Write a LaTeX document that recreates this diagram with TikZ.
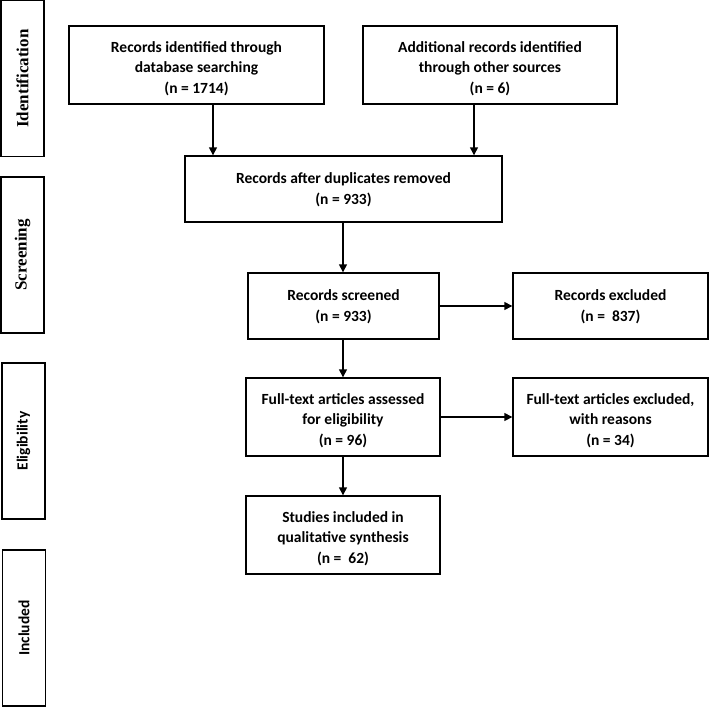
\documentclass[tikz,border=0pt]{standalone}
\usepackage{fontspec}
\setmainfont{Carlito}
\newfontfamily\tnr{Liberation Serif}
\usetikzlibrary{arrows.meta,calc}
\begin{document}
\begin{tikzpicture}[x=1pt,y=-1pt,
  box/.style={draw,line width=1.4pt,inner sep=0pt},
  txt/.style={align=center,inner sep=0pt,font=\fontsize{15.5}{20.7}\selectfont\bfseries},
  side/.style={draw,line width=1.4pt,inner sep=0pt,minimum width=43pt,minimum height=156pt},
  sidetext/.style={rotate=90,font=\fontsize{15.5}{16}\selectfont\bfseries},
  sertext/.style={rotate=90,font=\fontsize{17}{18}\selectfont\bfseries\tnr},
  arr/.style={line width=1.4pt,-{Triangle[length=8pt,width=8pt]}}]
\useasboundingbox (0,0) rectangle (709,707);
% side boxes
\node[side] (sid) at (22.5,78.5) {};
\node[sertext] at (sid) {Identification};
\node[side] (sscr) at (22.5,255) {};
\node[sertext] at (sscr) {Screening};
\node[side] (selg) at (23.5,441) {};
\node[sidetext] at (selg) {Eligibility};
\node[side] (sinc) at (24,628) {};
\node[sidetext] at (sinc) {Included};
% main boxes
\node[box,minimum width=255pt,minimum height=78pt] (b1) at (196.5,65) {};
\node[txt] at ([yshift=-3.5pt]b1.center) {Records identified through\\database searching\\(n = 1714)};
\node[box,minimum width=254pt,minimum height=78pt] (b2) at (490,65) {};
\node[txt] at ([yshift=-3.5pt]b2.center) {Additional records identified\\through other sources\\(n = 6)};
\node[box,minimum width=317pt,minimum height=66pt] (b3) at (343.5,189) {};
\node[txt] at ([yshift=-1pt]b3.center) {Records after duplicates removed\\(n = 933)};
\node[box,minimum width=191pt,minimum height=66pt] (b4) at (343.5,306) {};
\node[txt] at ([yshift=-1pt]b4.center) {Records screened\\(n = 933)};
\node[box,minimum width=195pt,minimum height=66pt] (b5) at (610.5,306) {};
\node[txt] at ([yshift=-1pt]b5.center) {Records excluded\\(n =\ \ 837)};
\node[box,minimum width=194pt,minimum height=78pt] (b6) at (343,417) {};
\node[txt] at ([yshift=-3.5pt]b6.center) {Full-text articles assessed\\for eligibility\\(n = 96)};
\node[box,minimum width=195pt,minimum height=78pt] (b7) at (610.5,417) {};
\node[txt] at ([yshift=-3.5pt]b7.center) {Full-text articles excluded,\\with reasons\\(n = 34)};
\node[box,minimum width=194pt,minimum height=78pt] (b8) at (343,535) {};
\node[txt] at ([yshift=-3.5pt]b8.center) {Studies included in\\qualitative synthesis\\(n =\ \ 62)};
% arrows
\coordinate (c1) at ($(b1.south)+(16.5,0)$);
\coordinate (c2) at ($(b2.south)+(-16,0)$);
\draw[arr] (c1) -- (c1 |- b3.north);
\draw[arr] (c2) -- (c2 |- b3.north);
\draw[arr] (b3.south -| b6) -- (b4.north -| b6);
\draw[arr] (b4) -- (b5);
\draw[arr] (b4.south -| b6) -- (b6.north);
\draw[arr] (b6) -- (b7);
\draw[arr] (b6) -- (b8);
\end{tikzpicture}
\end{document}
